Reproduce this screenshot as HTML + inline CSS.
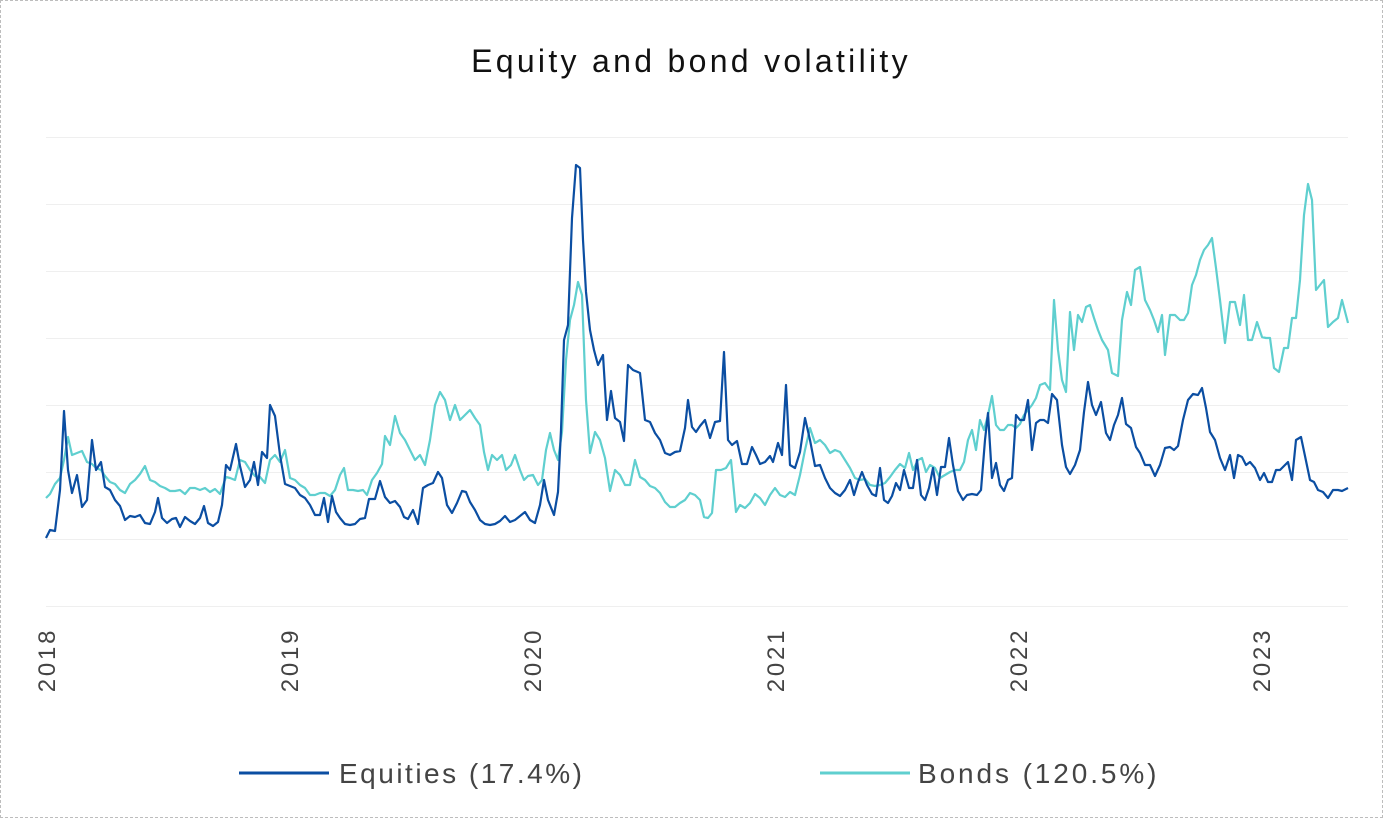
<!DOCTYPE html>
<html><head><meta charset="utf-8"><style>
html,body{margin:0;padding:0;background:#fff;}
body{width:1383px;height:818px;overflow:hidden;}
.frame{position:absolute;left:0;top:0;width:1381px;height:816px;border:1px dashed #bdbdbd;}
svg{position:absolute;left:0;top:0;}
text{font-family:"Liberation Sans",sans-serif;}
</style></head><body>
<div class="frame"></div>
<svg width="1383" height="818" viewBox="0 0 1383 818">
<text x="691" y="72" text-anchor="middle" font-size="32" fill="#111" letter-spacing="3.3">Equity and bond volatility</text>
<g stroke="#efefef" stroke-width="1">
<line x1="46" x2="1348" y1="137.5" y2="137.5"/><line x1="46" x2="1348" y1="204.5" y2="204.5"/>
<line x1="46" x2="1348" y1="271.5" y2="271.5"/><line x1="46" x2="1348" y1="338.5" y2="338.5"/>
<line x1="46" x2="1348" y1="405.5" y2="405.5"/><line x1="46" x2="1348" y1="472.5" y2="472.5"/>
<line x1="46" x2="1348" y1="539.5" y2="539.5"/><line x1="46" x2="1348" y1="606.5" y2="606.5"/>
</g>
<g font-size="24" fill="#444" text-anchor="middle" letter-spacing="2.8">
<text transform="translate(55,660) rotate(-90)">2018</text>
<text transform="translate(298,660) rotate(-90)">2019</text>
<text transform="translate(541,660) rotate(-90)">2020</text>
<text transform="translate(784,660) rotate(-90)">2021</text>
<text transform="translate(1027,660) rotate(-90)">2022</text>
<text transform="translate(1270,660) rotate(-90)">2023</text>
</g>
<polyline fill="none" stroke="#5fcfcf" stroke-width="2.2" stroke-linejoin="round" points="46,498 50,494 55,484 60,478 64,460 68,437 72,455 77,453 82,451 87,462 92,464 96,468 101,470 105,476 110,482 115,484 120,490 125,493 130,484 135,480 140,474 145,466 150,480 155,482 160,486 165,488 170,491 175,491 180,490 185,494 190,488 195,488 200,490 205,488 210,492 215,489 220,494 226,477 230,478 235,480 240,460 245,462 250,470 255,476 260,477 265,483 270,460 275,455 280,462 285,450 290,478 295,480 300,485 305,488 310,495 315,495 320,493 325,493 330,496 335,490 340,475 344,468 348,490 353,490 358,491 363,490 367,495 372,480 377,473 382,464 385,436 390,445 395,416 400,433 405,440 410,450 415,460 420,455 425,465 430,440 435,405 440,392 445,400 450,420 455,405 460,420 465,415 470,410 475,418 480,425 484,452 488,470 492,455 497,460 502,455 506,470 511,465 515,455 520,470 524,480 528,476 533,475 538,485 542,480 546,450 550,433 554,450 558,460 562,432 566,360 570,320 574,305 578,282 582,295 586,400 590,453 595,432 600,440 605,458 610,491 615,470 620,475 625,485 630,485 635,460 640,477 645,480 650,486 655,488 660,493 665,502 670,507 675,507 680,503 685,500 690,493 695,495 700,500 704,517 708,518 712,513 716,470 721,470 726,468 731,460 736,512 740,505 745,508 750,503 755,494 760,498 765,505 770,495 775,488 780,495 785,497 790,492 795,495 800,475 805,450 810,428 815,443 820,440 825,445 830,453 835,450 840,452 845,460 850,468 855,478 860,480 865,479 870,485 875,486 880,485 885,483 890,477 895,470 900,464 905,468 909,453 913,470 918,460 922,458 926,472 930,465 935,468 940,478 945,475 950,472 955,470 960,470 964,462 968,440 972,430 976,450 980,420 984,430 988,415 992,396 996,425 1000,430 1004,430 1008,425 1012,425 1016,428 1020,424 1024,415 1028,410 1032,405 1036,398 1040,385 1045,383 1050,390 1054,300 1058,350 1062,380 1066,392 1070,312 1074,350 1078,315 1082,322 1086,307 1090,305 1094,318 1098,330 1102,340 1108,350 1112,373 1118,376 1122,320 1127,292 1131,305 1135,270 1140,267 1145,300 1150,310 1154,320 1158,332 1162,315 1165,355 1170,315 1175,315 1180,320 1184,320 1188,313 1192,285 1196,275 1200,260 1204,250 1208,245 1212,238 1216,268 1220,300 1225,343 1230,302 1235,302 1240,325 1244,295 1248,340 1252,340 1257,322 1262,337 1266,338 1270,338 1274,368 1279,372 1284,348 1288,348 1292,318 1296,318 1300,280 1304,215 1308,184 1312,200 1316,290 1320,285 1324,280 1328,327 1333,322 1338,318 1342,300 1348,323"/>
<polyline fill="none" stroke="#0b4ea2" stroke-width="2.2" stroke-linejoin="round" points="46,538 50,530 55,531 60,490 64,411 68,470 72,493 77,475 82,507 87,500 92,440 96,470 101,462 105,487 110,490 115,500 120,506 125,520 130,516 135,517 140,515 145,523 150,524 155,512 158,498 162,518 167,523 172,519 176,518 180,527 185,517 190,521 195,524 200,518 204,506 208,523 213,526 218,522 222,505 226,465 230,470 236,444 240,466 245,487 250,480 254,462 258,485 262,452 267,458 270,405 275,416 280,455 285,484 290,486 295,488 300,495 305,498 310,505 315,515 320,515 324,498 328,522 332,496 336,512 340,518 345,524 350,525 355,524 360,519 365,518 369,499 375,499 380,481 385,497 390,503 395,501 400,507 404,517 408,519 413,510 418,524 423,488 428,485 433,483 438,472 442,478 447,505 452,513 457,503 462,491 466,492 470,502 475,510 480,520 485,524 490,525 495,524 500,521 505,516 510,522 515,520 520,516 525,512 530,520 535,523 540,505 544,480 548,500 554,515 558,492 561,430 564,340 568,325 572,218 576,165 580,168 583,240 586,292 590,330 594,350 598,365 603,355 607,420 611,391 615,418 620,422 624,441 628,365 633,370 640,373 645,420 650,422 655,433 660,440 665,453 670,455 675,452 680,451 685,428 688,400 692,427 696,432 700,426 705,420 710,438 715,422 720,421 724,352 728,440 732,445 737,441 742,464 747,464 752,447 756,455 760,464 765,462 770,456 773,462 778,443 782,455 786,385 790,465 795,468 800,452 805,418 810,440 815,466 820,465 825,478 830,488 835,493 840,496 845,490 850,480 854,495 858,482 862,472 867,485 872,494 876,496 880,468 884,500 888,503 892,496 896,483 900,490 904,470 909,488 913,488 917,460 921,495 925,500 929,488 933,468 937,495 941,467 945,467 949,438 953,465 958,491 963,500 967,495 972,494 977,495 981,490 985,440 988,413 992,478 996,463 1000,485 1004,491 1008,480 1012,478 1016,415 1020,420 1024,420 1028,400 1032,450 1036,423 1040,420 1044,420 1048,423 1052,394 1057,400 1062,445 1066,467 1070,474 1075,465 1080,450 1084,412 1088,382 1092,405 1096,415 1101,402 1106,433 1110,440 1114,425 1118,415 1122,398 1126,424 1131,428 1136,447 1140,453 1145,465 1150,465 1155,476 1160,465 1165,448 1170,447 1174,450 1178,446 1183,420 1188,400 1193,394 1198,395 1202,388 1206,408 1210,432 1215,440 1220,458 1225,470 1230,455 1234,478 1238,455 1242,457 1246,465 1250,462 1255,468 1260,480 1264,473 1268,482 1272,482 1276,470 1280,470 1284,466 1288,462 1292,480 1296,440 1301,437 1305,456 1310,480 1314,482 1318,490 1323,492 1328,498 1333,490 1338,490 1342,491 1348,488"/>
<line x1="239" x2="329" y1="773" y2="773" stroke="#0b4ea2" stroke-width="3"/>
<text x="339" y="783" font-size="28" fill="#444" letter-spacing="2.5">Equities (17.4%)</text>
<line x1="820" x2="910" y1="773" y2="773" stroke="#5fcfcf" stroke-width="3"/>
<text x="918" y="783" font-size="28" fill="#444" letter-spacing="2.9">Bonds (120.5%)</text>
</svg>
</body></html>
